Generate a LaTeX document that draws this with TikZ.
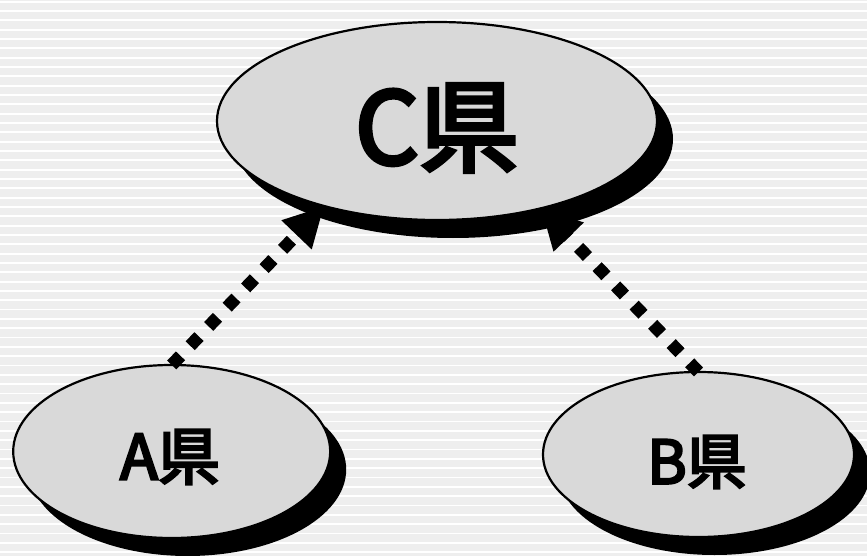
\documentclass[tikz,border=0pt]{standalone}
\usepackage{fontspec}
\newfontfamily\jp{Noto Sans CJK JP}[UprightFeatures={FakeBold=4}]
\usetikzlibrary{shapes.geometric,shadows,arrows.meta}
\definecolor{bggray}{HTML}{EEEEEE}
\definecolor{ellfill}{HTML}{D9D9D9}
\tikzset{
  county/.style={ellipse, draw=black, line width=2.2pt, fill=ellfill, inner sep=0pt, outer sep=0pt,
    drop shadow={shadow xshift=16pt, shadow yshift=-18pt, fill=black, opacity=1}},
  ctext/.style={inner sep=0pt, font=\jp},
  dotarrow/.style={line width=12.7pt, line cap=butt, dash pattern=on 12.7pt off 14pt,
    -{Triangle[length=40pt,width=39pt]}}
}
\begin{document}
\begin{tikzpicture}[x=1pt,y=-1pt]
\useasboundingbox (0,0) rectangle (867,556);
\clip (0,0) rectangle (867,556);
\fill[bggray] (0,0) rectangle (867,556);
\foreach \i in {0,...,59} \fill[white] (0,{0.8+9.33*\i}) rectangle (867,{2.6+9.33*\i});
\node[county, minimum width=440pt, minimum height=198pt] (C) at (437,121) {};
\node[county, minimum width=317pt, minimum height=173pt] (A) at (171.7,451.5) {};
\node[county, minimum width=311pt, minimum height=165pt] (B) at (698.5,454.5) {};
\node[ctext] (Ct) at (437,128) {\fontsize{100}{100}\selectfont C県};
\node[ctext] (At) at (170,457) {\fontsize{62}{62}\selectfont A県};
\node[ctext] (Bt) at (697,462) {\fontsize{60}{60}\selectfont B県};
\draw[dotarrow] (A.north) -- (C.217);
\draw[dotarrow] (B.north) -- (C.320);
\end{tikzpicture}
\end{document}
